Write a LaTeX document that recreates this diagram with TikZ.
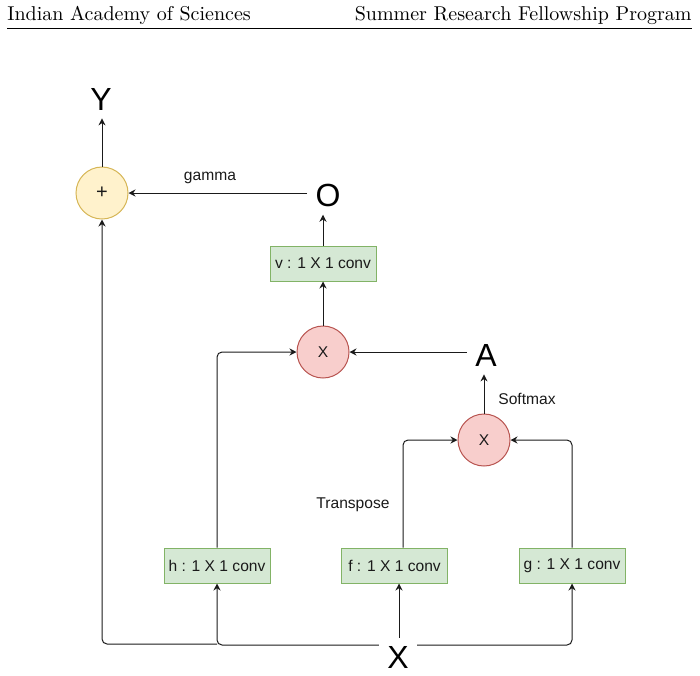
\documentclass[tikz,border=0pt]{standalone}
\usepackage{fontspec}
\newfontfamily\dfont{Liberation Sans}
\usetikzlibrary{arrows.meta}
\definecolor{convf}{HTML}{D5E8D4}
\definecolor{convd}{HTML}{82B366}
\definecolor{mulf}{HTML}{F8CECC}
\definecolor{muld}{HTML}{B85450}
\definecolor{addf}{HTML}{FFF2CC}
\definecolor{addd}{HTML}{D6B656}
\definecolor{linec}{HTML}{1A1A1A}
\tikzset{
 lbl/.style={font=\dfont\fontsize{16}{16}\selectfont, inner sep=4pt},
 sm/.style={font=\dfont\fontsize{7.8}{9}\selectfont, text=linec},
 conv/.style={draw=convd, fill=convf, minimum width=53pt, minimum height=17.5pt, inner xsep=1pt, line width=0.5pt, sm},
 mul/.style={circle, draw=muld, fill=mulf, minimum size=26pt, inner sep=0pt, line width=0.5pt, sm},
 addn/.style={circle, draw=addd, fill=addf, minimum size=26pt, inner sep=0pt, line width=0.5pt, font=\dfont\fontsize{10}{10}\selectfont, text=linec},
 arr/.style={-{Stealth[length=3.5pt,width=3.5pt]}, line width=0.5pt, draw=linec, rounded corners=2.5pt},
 hdr/.style={anchor=base, inner sep=0pt, font=\normalsize},
}
\begin{document}
\begin{tikzpicture}[x=0.5pt, y=-0.5pt]
\useasboundingbox (0,0) rectangle (700,675);
% header
\node[hdr, anchor=base west] (hl) at (7,20) {Indian Academy of Sciences};
\node[hdr, anchor=base east] (hr) at (692,20) {Summer Research Fellowship Program};
\draw[line width=0.4pt] (hl.base west |- 0,28) -- (hr.base east |- 0,28);
% nodes
\node[addn] (plus) at (102,193) {+};
\node[lbl] (Y) at (101,99) {Y};
\node[lbl] (O) at (328,195) {O};
\node[conv] (v) at (323,263.5) {v : 1 X 1 conv};
\node[mul] (m1) at (323,352) {X};
\node[lbl] (A) at (486,355) {A};
\node[mul] (m2) at (484,440) {X};
\node[conv] (h) at (217,565.5) {h : 1 X 1 conv};
\node[conv] (f) at (394.5,565.5) {f : 1 X 1 conv};
\node[conv] (g) at (572,565.5) {g : 1 X 1 conv};
\node[lbl] (X) at (398,657) {X};
\node[sm] (gamma) at (210,178) {gamma};
\node[sm] (softmax) at (527,399) {Softmax};
\node[sm] (transpose) at (353,505) {Transpose};
% connectors
\draw[arr] (plus.north) -- (plus.north |- Y.south);
\draw[arr] (O.west |- plus) -- (plus.east);
\draw[arr] (v.north) -- (v.north |- O.south);
\draw[arr] (m1.north) -- (v.south);
\draw[arr] (A.west |- m1) -- (m1.east);
\draw[arr] (h.north) |- (m1.west);
\draw[arr] (m2.north) -- (m2.north |- A.south);
\draw[arr] ([xshift=4.25pt]f.north) |- (m2.west);
\draw[arr] (g.north) |- (m2.east);
\draw[arr] ([xshift=2.25pt]f.south |- X.north) -- ([xshift=2.25pt]f.south);
\draw[arr] ([yshift=6pt]X.west) -| (h.south);
\draw[arr] ([yshift=6pt]X.east) -| (g.south);
\draw[arr] ([yshift=6.5pt]X.west -| h.south) -| (plus.south);
\end{tikzpicture}
\end{document}
